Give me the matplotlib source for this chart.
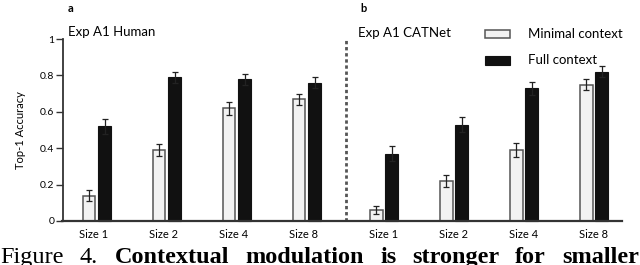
import numpy as np
import matplotlib
matplotlib.use("Agg")
import matplotlib.pyplot as plt
from matplotlib.patches import Rectangle

plt.rcParams['font.family'] = ['Lato', 'DejaVu Sans']

# data
sizes = ['Size 1', 'Size 2', 'Size 4', 'Size 8']
human_min = [0.14, 0.39, 0.62, 0.67]
human_full = [0.52, 0.79, 0.78, 0.76]
human_min_err = [0.03, 0.035, 0.035, 0.03]
human_full_err = [0.04, 0.03, 0.03, 0.03]
net_min = [0.06, 0.22, 0.39, 0.75]
net_full = [0.37, 0.53, 0.73, 0.82]
net_min_err = [0.02, 0.035, 0.04, 0.03]
net_full_err = [0.04, 0.04, 0.035, 0.03]
yticks = [0, 0.2, 0.4, 0.6, 0.8, 1]
ytick_labels = ['0', '0.2', '0.4', '0.6', '0.8', '1']

fig = plt.figure(figsize=(6.4, 2.65), dpi=100)
ax = fig.add_axes([62.5/640, 1-221/265, (622-62.5)/640, (221-39)/265])

x_left = np.arange(4)
x_right = np.arange(4) + 4.1
w = 0.18
off = 0.11
min_face = '#f2f2f2'
min_edge = '#555555'
full_face = '#111111'
ekw = dict(ecolor='#222222', elinewidth=0.9, capsize=2.5, capthick=0.9)

for xs, mins, fulls, me, fe in [(x_left, human_min, human_full, human_min_err, human_full_err),
                                (x_right, net_min, net_full, net_min_err, net_full_err)]:
    ax.bar(xs-off, mins, w, color=min_face, edgecolor=min_edge, lw=1.1,
           yerr=me, error_kw=ekw, clip_on=False)
    ax.bar(xs+off, fulls, w, color=full_face, edgecolor=full_face, lw=0.8,
           yerr=fe, error_kw=ekw, clip_on=False)

ax.set_xlim(-0.49, 7.5)
ax.set_ylim(0, 1)
ax.set_yticks(yticks)
ax.set_yticklabels(ytick_labels, fontsize=7.5)
ax.set_xticks(list(x_left-0.05) + list(x_right))
ax.set_xticklabels(sizes + sizes, fontsize=8)
ax.tick_params(axis='x', length=0, pad=6)
ax.tick_params(axis='y', length=5, width=1, color='#333333', pad=1)
for s in ['top', 'right']:
    ax.spines[s].set_visible(False)
ax.spines['left'].set_color('#333333')
ax.spines['bottom'].set_color('#333333')
ax.spines['left'].set_linewidth(1.3)
ax.spines['bottom'].set_linewidth(1.6)
ax.set_ylabel('Top-1 Accuracy', fontsize=8, labelpad=10)

# dashed separator
ax.plot([3.56, 3.56], [0, 1], color='#555555', lw=2, ls=(0, (1.2, 1.0)), clip_on=False)

# panel labels and titles
fig.text(68/640, 1-12/265, 'a', fontsize=8, fontweight='bold')
fig.text(68/640, 1-36/265, 'Exp A1 Human', fontsize=9.5)
fig.text(360/640, 1-12/265, 'b', fontsize=8, fontweight='bold')
fig.text(358/640, 1-37/265, 'Exp A1 CATNet', fontsize=9.5)

# legend drawn by hand
fig.patches.append(Rectangle((485/640, 1-38/265), 25/640, 8/265, transform=fig.transFigure,
                             facecolor=min_face, edgecolor=min_edge, lw=1.1))
fig.patches.append(Rectangle((485/640, 1-65/265), 25/640, 9/265, transform=fig.transFigure,
                             facecolor=full_face, edgecolor=full_face, lw=0.8))
fig.text(528/640, 1-34/265, 'Minimal context', fontsize=9.5, va='center')
fig.text(528/640, 1-60/265, 'Full context', fontsize=9.5, va='center')

# caption, justified and cut at the bottom edge like the source
cap_words = [('Figure', 0, 'normal'), ('4.', 80, 'normal'), ('Contextual', 115, 'bold'),
             ('modulation', 245, 'bold'), ('is', 380, 'bold'), ('stronger', 412, 'bold'),
             ('for', 515, 'bold'), ('smaller', 562, 'bold')]
for word, px, fw in cap_words:
    fig.text(px/640, 1-263/265, word, fontsize=17.5, fontweight=fw,
             family='Liberation Serif', va='baseline')

fig.savefig('out.png', dpi=100)
